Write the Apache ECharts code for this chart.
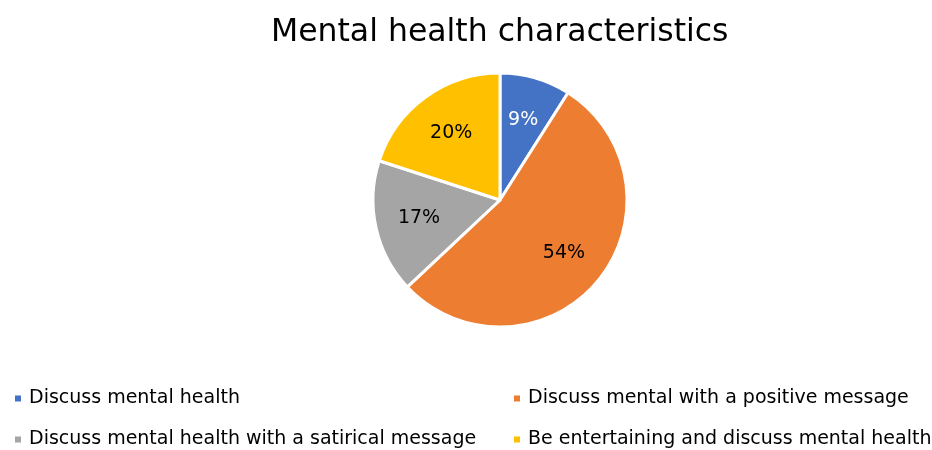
<!DOCTYPE html>
<html>
<head>
<meta charset="utf-8">
<script src="https://cdn.jsdelivr.net/npm/echarts@6/dist/echarts.min.js"></script>
<style>html,body{margin:0;padding:0;background:#fff}#c{width:932px;height:450px}</style>
</head>
<body>
<div id="c"></div>
<script>
const categories = ["Discuss mental health", "Discuss mental with a positive message", "Discuss mental health with a satirical message", "Be entertaining and discuss mental health"];
const values = [9, 54, 17, 20];
const colors = ["#4472C4", "#ED7D31", "#A5A5A5", "#FFC000"];
const labelColors = ["#ffffff", "#000000", "#000000", "#000000"];

const FONT = "DejaVu Sans";
const chart = echarts.init(document.getElementById('c'));
const pieData = categories.map((n, i) => ({ name: n, value: values[i], itemStyle: { color: colors[i] } }));
const labelData = categories.map((n, i) => ({ name: n, value: values[i], label: { color: labelColors[i] } }));

const legendPos = [[8, 384], [507, 384], [8, 425], [507, 425]];
const legends = categories.map((n, i) => ({
  orient: 'horizontal', left: legendPos[i][0], top: legendPos[i][1],
  itemWidth: 8, itemHeight: 8, icon: 'rect',
  textStyle: { fontFamily: FONT, fontSize: 19, color: '#000', padding: [0, 0, 0, 2] },
  selectedMode: false, data: [n]
}));

chart.setOption({
  animation: false,
  title: { text: 'Mental health characteristics', left: 266, top: 12,
    textStyle: { fontFamily: FONT, fontSize: 31.5, fontWeight: 'normal', color: '#000' } },
  legend: legends,
  series: [{
    type: 'pie', center: [500, 200], radius: [0, 127], startAngle: 90, clockwise: true,
    itemStyle: { borderColor: '#fff', borderWidth: 3 },
    label: { show: false }, labelLine: { show: false },
    emphasis: { disabled: true },
    data: pieData
  }, {
    type: 'pie', center: [500, 200], radius: [0, 160], startAngle: 90, clockwise: true,
    silent: true, legendHoverLink: false,
    itemStyle: { color: 'rgba(0,0,0,0)', borderWidth: 0 },
    label: { show: true, position: 'inside', formatter: '{c}%', fontFamily: FONT, fontSize: 19 },
    labelLine: { show: false },
    emphasis: { disabled: true },
    data: labelData
  }]
});
</script>
</body>
</html>
